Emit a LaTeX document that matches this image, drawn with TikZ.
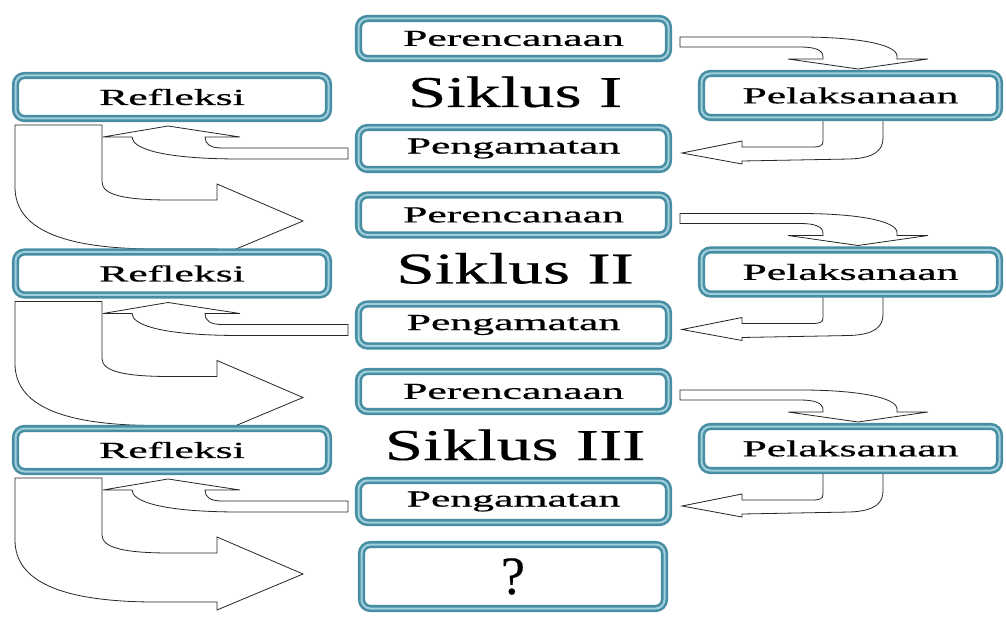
\documentclass[tikz,border=0pt]{standalone}
\usepackage{fontspec}
\setmainfont{Liberation Serif}
\newfontfamily\boxfont[FakeBold=0.5]{Liberation Serif}
\newfontfamily\titlefont[FakeBold=0.3]{Liberation Serif}
\usepackage{graphicx}
\definecolor{bdark}{RGB}{72,142,163}
\definecolor{blight}{RGB}{160,208,222}
\newcommand{\wide}[2][1.9]{\scalebox{#1}[1]{#2}}
\tikzset{
  stage/.style={rectangle, rounded corners=9pt, draw=bdark, line width=2.6pt,
    double=blight, double distance=2pt, fill=white, inner sep=0pt,
    font=\boxfont\fontsize{23}{23}\selectfont},
  barrow/.style={draw=black!85, line width=0.8pt, fill=white, line join=miter},
  cycletitle/.style={font=\titlefont\fontsize{44}{44}\selectfont, anchor=base, inner sep=0pt}
}
\begin{document}
\begin{tikzpicture}[x=1pt,y=-1pt]
\useasboundingbox (0,0) rectangle (1006,617);
\foreach \k/\t in {0/I,1/II,2/III}{
  \pgfmathsetmacro{\dy}{\k*176.5}
  \begin{scope}[shift={(0,\dy)}]
    % block arrows (behind the boxes)
    \path[barrow] (680,37) -- (800,37) .. controls (860,37) and (897,45) .. (897,56)
      -- (897,59) -- (928,59) -- (858,69) -- (788,59) -- (823,59) -- (823,57)
      .. controls (823,50) and (815,47) .. (800,47) -- (680,47) -- cycle;
    \path[barrow] (823,118) -- (823,141) .. controls (823,146) and (820,147) .. (812,147)
      -- (742,147) -- (742,141) -- (682,153) -- (742,164) -- (742,161) -- (850,159)
      .. controls (875,158) and (883,150) .. (883,138) -- (883,118) -- cycle;
    \path[barrow] (348,148) -- (222,148) .. controls (210,148) and (205,144) .. (205,137)
      -- (240,137) -- (168,126) -- (103,137) -- (132,137)
      .. controls (132,148) and (160,159) .. (240,159) -- (348,159) -- cycle;
    \path[barrow] (15,125) -- (102,125) -- (102,182) .. controls (102,195) and (125,200) .. (170,200)
      -- (217,200) -- (217,184) -- (303,221) -- (217,257) -- (217,249) -- (150,249)
      .. controls (60,248) and (15,228) .. (15,187) -- cycle;
    % boxes
    \node[stage, minimum width=310pt, minimum height=40pt] (per\k) at (513.5,38.5) {\wide{Perencanaan}};
    \node[stage, minimum width=313pt, minimum height=43pt] (ref\k) at (172,97) {\wide{Refleksi}};
    \node[stage, minimum width=298pt, minimum height=44pt] (pel\k) at (850.5,95.5) {\wide{Pelaksanaan}};
    \node[stage, minimum width=310pt, minimum height=42pt] (pen\k) at (513.5,148.5) {\wide{Pengamatan}};
    \node[cycletitle] (sik\k) at (515,107) {\wide[1.58]{Siklus \t}};
  \end{scope}
}
\node[stage, minimum width=303pt, minimum height=64pt, font=\titlefont\fontsize{54}{54}\selectfont] (next) at (513,576.5) {?};
\end{tikzpicture}
\end{document}
